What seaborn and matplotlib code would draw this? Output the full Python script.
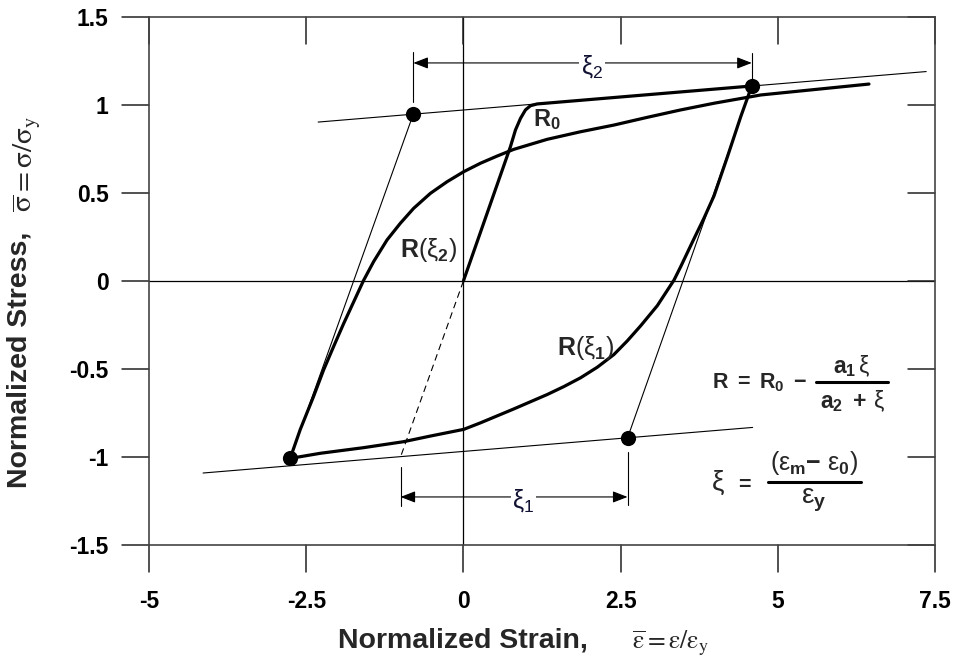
import matplotlib
matplotlib.use("Agg")
import matplotlib.pyplot as plt
import seaborn as sns

# ---------------- data ----------------
x_ticks = [-5, -2.5, 0, 2.5, 5, 7.5]
x_ticklabels = ["-5", "-2.5", "0", "2.5", "5", "7.5"]
y_ticks = [1.5, 1, 0.5, 0, -0.5, -1, -1.5]
y_ticklabels = ["1.5", "1", "0.5", "0", "-0.5", "-1", "-1.5"]
x_range = [-5, 7.5]
y_range = [-1.5, 1.5]

# virgin (monotonic) curve, R0
virgin_x = [0.0, 0.748, 0.828, 0.908, 0.987, 1.067, 1.173, 4.586]
virgin_y = [0.0, 0.763, 0.858, 0.924, 0.972, 0.996, 1.006, 1.108]

# descending branch R(xi1)
desc_x = [4.586, 4.411, 4.199, 3.986, 3.826, 3.667, 3.455, 3.349, 3.084, 2.818,
          2.607, 2.393, 2.129, 1.863, 1.597, 1.333, 0.801, 0.271, 0.005, -0.525,
          -0.951, -1.588, -2.277, -2.755]
desc_y = [1.108, 0.934, 0.706, 0.484, 0.357, 0.240, 0.081, 0.005, -0.140, -0.255,
          -0.340, -0.418, -0.490, -0.550, -0.600, -0.645, -0.727, -0.806, -0.843, -0.881,
          -0.913, -0.947, -0.979, -1.008]

# ascending branch R(xi2)
asc_x = [-2.755, -2.596, -2.384, -2.224, -2.065, -1.906, -1.747, -1.588, -1.428, -1.215,
         -1.003, -0.791, -0.525, -0.260, 0.005, 0.271, 0.537, 0.801, 1.333, 1.863,
         2.393, 2.925, 3.455, 3.986, 4.729, 6.45]
asc_y = [-1.008, -0.845, -0.657, -0.506, -0.373, -0.243, -0.120, 0.003, 0.110, 0.233,
         0.328, 0.413, 0.498, 0.564, 0.621, 0.669, 0.710, 0.748, 0.805, 0.848,
         0.886, 0.930, 0.972, 1.010, 1.057, 1.119]

# asymptotes (thin lines)
upper_asym_x = [-2.31, 7.36]
upper_asym_y = [0.903, 1.19]
lower_asym_x = [-4.14, 4.60]
lower_asym_y = [-1.091, -0.832]
elastic_left_x = [-2.755, -0.796]
elastic_left_y = [-1.008, 0.949]
elastic_right_x = [2.61, 4.586]
elastic_right_y = [-0.892, 1.108]
dashed_x = [0.0, -1.0]
dashed_y = [0.0, -1.0]

# reversal / intersection points
dot_x = [4.586, -0.796, 2.61, -2.755]
dot_y = [1.108, 0.949, -0.892, -1.008]

# dimension lines
xi2_span = [-0.796, 4.586]
xi2_level = 1.239
xi1_span = [-1.0, 2.61]
xi1_level = -1.227

# ---------------- style ----------------
sns.set_style("white")
plt.rcParams["font.family"] = ["Liberation Sans", "DejaVu Sans"]
plt.rcParams["axes.unicode_minus"] = False
plt.rcParams["mathtext.fontset"] = "custom"
plt.rcParams["mathtext.rm"] = "Liberation Sans"
plt.rcParams["mathtext.it"] = "Liberation Sans:italic"
plt.rcParams["mathtext.bf"] = "Liberation Sans:bold"
plt.rcParams["mathtext.sf"] = "Liberation Sans"

W, H = 958, 667
FR_L, FR_R, FR_T, FR_B = 149, 935, 17, 545   # plot frame in pixels
tick_px = 27
# axes box extended left/bottom so the outward tick marks lie inside it
fig = plt.figure(figsize=(W / 100, H / 100), dpi=100)
ax = fig.add_axes([(FR_L - tick_px) / W, 1 - (FR_B + tick_px) / H,
                   (FR_R - FR_L + tick_px) / W, (FR_B - FR_T + tick_px) / H])

ux = (x_range[1] - x_range[0]) / (FR_R - FR_L)   # data units per pixel
uy = (y_range[1] - y_range[0]) / (FR_B - FR_T)
x_lo = x_range[0] - tick_px * ux
y_lo = y_range[0] - tick_px * uy

thin = 0.8
thick = 2.3
tick_col = "#222222"
frame_col = "#444444"

# frame
ax.plot([x_range[0], x_range[1], x_range[1], x_range[0], x_range[0]],
        [y_range[0], y_range[0], y_range[1], y_range[1], y_range[0]],
        color=frame_col, lw=1.2, clip_on=False, zorder=4, solid_joinstyle="miter")

# tick marks: outward bottom/left, inward top/right
for xv in x_ticks:
    ax.plot([xv, xv], [y_lo, y_range[0]], color=tick_col, lw=1.1, clip_on=False)
    ax.plot([xv, xv], [y_range[1], y_range[1] - tick_px * uy], color=tick_col, lw=1.1,
            clip_on=False)
for yv in y_ticks:
    ax.plot([x_lo, x_range[0]], [yv, yv], color=tick_col, lw=1.1, clip_on=False)
    ax.plot([x_range[1], x_range[1] - tick_px * ux], [yv, yv], color=tick_col, lw=1.1,
            clip_on=False)

# zero lines
ax.plot(x_range, [0, 0], color="black", lw=0.9, zorder=1)
ax.plot([0, 0], y_range, color="black", lw=0.9, zorder=1)

def line(xs, ys, **kw):
    sns.lineplot(x=xs, y=ys, ax=ax, sort=False, estimator=None, legend=False, **kw)

line(upper_asym_x, upper_asym_y, color="black", lw=thin)
line(lower_asym_x, lower_asym_y, color="black", lw=thin)
line(elastic_left_x, elastic_left_y, color="black", lw=thin)
line(elastic_right_x, elastic_right_y, color="black", lw=thin)
ax.plot(dashed_x, dashed_y, color="black", lw=thin, ls=(0, (6, 4)))

for xs, ys in [(virgin_x, virgin_y), (desc_x, desc_y), (asc_x, asc_y)]:
    line(xs, ys, color="black", lw=thick, solid_joinstyle="round", solid_capstyle="round")

sns.scatterplot(x=dot_x, y=dot_y, ax=ax, color="black", s=120, edgecolor="black",
                linewidth=0, zorder=5, legend=False)

# dimension lines
for span, lev, ext, lab in [
    (xi2_span, xi2_level, [(1.30, 1.017), (1.295, 1.142)], r"$\mathrm{\xi}_{2}$"),
    (xi1_span, xi1_level, [(-1.057, -1.278), (-0.97, -1.273)], r"$\mathrm{\xi}_{1}$"),
]:
    ax.annotate("", xy=(span[1], lev), xytext=(span[0], lev),
                arrowprops=dict(arrowstyle="<|-|>,head_length=0.9,head_width=0.35",
                                lw=thin, color="black", shrinkA=0, shrinkB=0))
    for xv, (ya, yb) in zip(span, ext):
        ax.plot([xv, xv], [ya, yb], color="black", lw=thin)
    ax.text((span[0] + span[1]) / 2 + 0.15, lev - 0.02, lab, ha="center", va="center",
            fontsize=18, color="#111133",
            bbox=dict(facecolor="white", edgecolor="none", pad=1))

# curve labels
ax.text(1.10, 0.92, r"$\mathbf{R_0}$", fontsize=17, ha="left", va="center")
ax.text(-0.55, 0.175, r"$\mathbf{R}(\mathrm{\xi}_{\mathbf{2}})$", fontsize=18, ha="center", va="center")
ax.text(1.95, -0.38, r"$\mathbf{R}(\mathrm{\xi}_{\mathbf{1}})$", fontsize=18, ha="center", va="center")

# formula 1
ax.text(3.95, -0.58, r"$\mathbf{R\ =\ R_0\ -}$", fontsize=15.5, ha="left", va="center")
ax.plot([5.60, 6.75], [-0.574, -0.574], color="black", lw=2.2)
ax.text(6.18, -0.485, r"$\mathbf{a_1}\,\mathrm{\xi}$", fontsize=16.5, ha="center", va="center")
ax.text(6.18, -0.685, r"$\mathbf{a_2\ +}\,\mathrm{\xi}$", fontsize=16.5, ha="center", va="center")

# formula 2
ax.text(4.045, -1.15, r"$\mathrm{\xi}$", fontsize=20, ha="center", va="center")
ax.text(4.46, -1.15, r"$\mathbf{=}$", fontsize=15.5, ha="center", va="center")
ax.plot([4.84, 6.32], [-1.142, -1.142], color="black", lw=2.2)
ax.text(5.57, -1.035, r"$(\mathrm{\varepsilon}_{\mathbf{m}}\mathbf{-}\ \mathrm{\varepsilon}_{\mathbf{0}})$",
        fontsize=18, ha="center", va="center")
ax.text(5.57, -1.245, r"$\mathrm{\varepsilon}_{\mathbf{y}}$", fontsize=20, ha="center", va="center")

# limits and tick labels
ax.set_xlim(x_lo, x_range[1])
ax.set_ylim(y_lo, y_range[1])
ax.set_xticks(x_ticks)
ax.set_xticklabels(x_ticklabels, fontweight="bold")
ax.set_yticks(y_ticks)
ax.set_yticklabels(y_ticklabels, fontweight="bold")
ax.tick_params(axis="both", length=0, width=0, labelsize=16.5, labelcolor="black",
               bottom=True, left=True, top=False, right=False)
ax.tick_params(axis="x", pad=12.6)
ax.tick_params(axis="y", pad=9.6)
for sp in ax.spines.values():
    sp.set_visible(False)

# axis titles (bold words + serif math part)
fig.text(338 / W, 1 - 648 / H, "Normalized Strain,", fontsize=20.5, fontweight="bold",
         ha="left", va="baseline")
fig.text(632 / W, 1 - 648 / H,
         r"$\overline{\mathrm{\varepsilon}} = \mathrm{\varepsilon}/\mathrm{\varepsilon}_{\mathrm{y}}$",
         fontsize=18.5, math_fontfamily="stix", ha="left", va="baseline")
fig.text(33 / W, 1 - 488 / H, "Normalized Stress,", fontsize=20.5, fontweight="bold",
         rotation=90, ha="right", va="bottom")
fig.text(42 / W, 1 - 212 / H,
         r"$\overline{\mathrm{\sigma}} = \mathrm{\sigma}/\mathrm{\sigma}_{\mathrm{y}}$",
         fontsize=21, math_fontfamily="stix", rotation=90, ha="right", va="bottom")

fig.savefig("out.png", dpi=100)
